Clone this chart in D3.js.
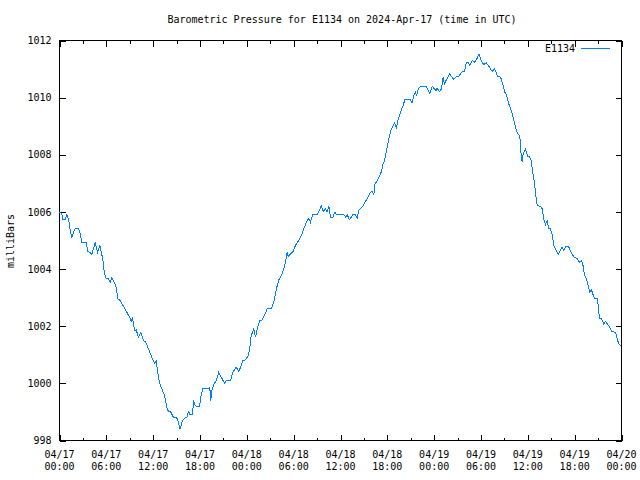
<!DOCTYPE html>
<html><head><meta charset="utf-8">
<script src="https://cdn.jsdelivr.net/npm/d3@7"></script>
<style>body{margin:0;background:#fff}svg{display:block}text{font-family:"DejaVu Sans Mono",monospace;font-size:10px;fill:#000}</style>
</head><body><svg id="c" width="640" height="480"></svg>
<script>
const title = "Barometric Pressure for E1134 on 2024-Apr-17 (time in UTC)";
const seriesName = "E1134";
const yLabel = "milliBars";
// hours since 2024-04-17 00:00 UTC
const hours = [0.0,0.29,0.42,0.73,0.94,1.15,1.37,1.58,1.88,2.01,2.43,2.65,2.86,3.42,3.63,3.93,4.14,4.57,4.87,5.16,5.34,5.55,5.73,5.93,6.28,6.50,6.70,7.01,7.26,7.47,7.78,8.20,8.62,8.97,9.19,9.35,9.61,9.83,10.12,10.42,10.76,11.06,11.40,11.82,12.17,12.39,12.59,12.81,13.11,13.45,13.62,13.84,14.26,14.60,15.03,15.24,15.46,15.76,16.10,16.31,16.53,16.74,17.04,17.17,17.38,17.59,17.94,
18.15,18.36,19.05,19.25,19.38,19.56,19.77,20.07,20.41,20.71,21.14,21.39,21.91,22.20,22.64,22.97,23.28,23.48,23.83,24.17,24.34,24.56,24.89,25.11,25.40,25.66,25.97,26.26,26.61,27.16,27.46,27.67,27.89,28.09,28.44,28.73,28.95,29.17,29.30,29.59,29.94,30.23,30.66,31.00,31.30,31.64,31.94,32.15,32.45,33.01,33.31,33.52,33.78,34.08,34.29,34.50,34.72,35.01,35.27,35.49,
36.42,36.64,36.86,37.15,37.57,37.92,38.14,38.34,38.56,38.85,39.11,39.42,39.62,39.84,40.06,40.27,40.39,40.70,41.03,41.25,41.42,41.63,41.76,41.89,42.11,42.28,42.53,42.83,42.95,43.17,43.34,43.56,43.77,44.03,44.24,44.97,45.18,45.39,45.61,45.73,45.95,46.25,46.98,47.23,47.44,47.75,48.04,48.26,48.38,48.68,48.94,49.15,49.32,49.45,49.67,49.96,50.31,50.51,50.73,51.15,51.50,51.88,52.10,52.36,52.56,52.87,53.20,53.51,53.74,54.02,54.35,54.66,54.99,55.43,55.73,56.15,56.50,56.79,57.05,57.26,57.56,57.86,58.12,58.42,58.71,58.97,59.06,59.15,59.28,59.40,59.70,59.99,60.25,60.43,60.63,60.89,61.07,61.20,61.62,61.84,62.04,62.26,62.48,62.68,62.90,63.12,63.32,63.63,63.89,64.18,64.40,64.60,64.91,65.25,65.59,65.89,66.32,66.62,66.87,67.04,67.26,67.51,67.73,67.94,68.15,68.32,68.54,68.88,69.01,69.18,69.43,69.73,69.95,70.37,70.59,70.72,71.23,71.45,71.65,71.96];
const pressure = [1006.00,1005.93,1005.73,1005.73,1005.90,1005.76,1005.35,1005.12,1005.35,1005.41,1005.41,1005.23,1004.94,1004.92,1004.61,1004.59,1004.51,1004.92,1004.59,1004.83,1004.59,1004.36,1003.89,1003.69,1003.66,1003.54,1003.69,1003.54,1003.37,1002.96,1002.90,1002.69,1002.49,1002.32,1002.18,1002.28,1001.85,1001.87,1001.61,1001.78,1001.50,1001.44,1001.21,1000.92,1000.71,1000.78,1000.39,1000.01,999.81,999.58,999.34,999.05,998.99,998.81,998.79,998.64,998.39,998.70,998.79,998.81,999.01,998.90,998.90,999.40,999.22,999.19,999.19,
999.58,999.81,999.81,999.87,999.40,999.81,999.96,1000.10,1000.39,1000.22,1000.01,1000.10,1000.10,1000.39,1000.57,1000.42,1000.62,1000.80,1000.82,1000.97,1001.15,1001.67,1001.91,1001.62,1001.97,1002.20,1002.22,1002.38,1002.61,1002.63,1002.87,1003.13,1003.42,1003.62,1003.78,1004.01,1004.24,1004.59,1004.44,1004.53,1004.62,1004.83,1005.00,1005.18,1005.41,1005.64,1005.78,1005.64,1005.91,1005.91,1006.05,1006.21,1006.01,1006.11,1006.01,1006.21,1005.80,1005.80,1005.99,1005.91,
1005.91,1005.82,1005.90,1005.73,1005.90,1005.91,1005.78,1006.05,1006.11,1006.20,1006.34,1006.46,1006.58,1006.69,1006.73,1006.60,1006.95,1007.10,1007.28,1007.42,1007.65,1007.80,1007.97,1008.15,1008.44,1008.67,1008.91,1009.06,1009.12,1008.91,1009.20,1009.37,1009.55,1009.73,1009.92,1009.92,1009.82,1010.08,1010.19,1010.05,1010.29,1010.40,1010.40,1010.25,1010.13,1010.39,1010.31,1010.25,1010.33,1010.22,1010.31,1010.72,1010.46,1010.57,1010.66,1010.83,1010.72,1010.63,1010.72,1010.74,1010.89,1010.92,1011.22,1011.22,1011.13,1011.30,1011.24,1011.38,1011.53,1011.30,1011.15,1011.22,1011.10,1010.92,1011.01,1010.74,1010.72,1010.48,1010.19,1010.10,1009.78,1009.55,1009.32,1008.97,1008.73,1008.67,1008.33,1007.95,1007.74,1008.03,1008.21,1007.94,1007.92,1007.80,1007.39,1006.93,1006.46,1006.23,1006.19,1006.11,1005.76,1005.55,1005.70,1005.43,1005.41,1005.20,1004.83,1004.65,1004.50,1004.65,1004.77,1004.65,1004.80,1004.77,1004.57,1004.42,1004.36,1004.24,1004.30,1004.18,1003.78,1003.66,1003.42,1003.19,1003.28,1003.13,1002.98,1002.96,1002.73,1002.28,1002.26,1002.08,1002.16,1002.02,1001.91,1001.81,1001.79,1001.56,1001.38,1001.32];
const yTicks = [998,1000,1002,1004,1006,1008,1010,1012];
const xTickHours = [0,6,12,18,24,30,36,42,48,54,60,66,72];
const xMinorHours = [3,9,15,21,27,33,39,45,51,57,63,69];
const xTickDates = ["04/17","04/17","04/17","04/17","04/18","04/18","04/18","04/18","04/19","04/19","04/19","04/19","04/20"];
const xTickTimes = ["00:00","06:00","12:00","18:00","00:00","06:00","12:00","18:00","00:00","06:00","12:00","18:00","00:00"];

const data = hours.map((h,i)=>({h, p:pressure[i]}));
const svg = d3.select("#c");
const L=59.5, R=621.5, T=40.5, B=440.5;
const x = d3.scaleLinear().domain([0,72]).range([L,R]);
const y = d3.scaleLinear().domain([998,1012]).range([B,T]);

function styleAxis(g){ g.select(".domain").remove(); g.selectAll("line").attr("stroke","#000").attr("shape-rendering","crispEdges"); }

// major/minor ticks, all inward
svg.append("g").attr("transform",`translate(0,${B})`).call(d3.axisBottom(x).tickValues(xTickHours).tickSize(-6).tickFormat("")).call(styleAxis);
svg.append("g").attr("transform",`translate(0,${B})`).call(d3.axisBottom(x).tickValues(xMinorHours).tickSize(-3).tickFormat("")).call(styleAxis);
svg.append("g").attr("transform",`translate(0,${T})`).call(d3.axisTop(x).tickValues(xTickHours).tickSize(-6).tickFormat("")).call(styleAxis);
svg.append("g").attr("transform",`translate(0,${T})`).call(d3.axisTop(x).tickValues(xMinorHours).tickSize(-3).tickFormat("")).call(styleAxis);
const gl = svg.append("g").attr("transform",`translate(${L},0)`).call(d3.axisLeft(y).tickValues(yTicks).tickSize(-6).tickPadding(8).tickFormat(d3.format("d"))).call(styleAxis);
gl.selectAll("text").attr("font-family",null).attr("font-size",null).attr("fill","#000");
svg.append("g").attr("transform",`translate(${R},0)`).call(d3.axisRight(y).tickValues(yTicks).tickSize(-6).tickFormat("")).call(styleAxis);

// frame
svg.append("rect").attr("x",L).attr("y",T).attr("width",R-L).attr("height",B-T)
  .attr("fill","none").attr("stroke","#000").attr("shape-rendering","crispEdges");

// x labels two lines
const xl = svg.append("g");
xTickHours.forEach((h,i)=>{
  const t = xl.append("text").attr("x",x(h)).attr("text-anchor","middle");
  t.append("tspan").attr("x",x(h)).attr("y",458).text(xTickDates[i]);
  t.append("tspan").attr("x",x(h)).attr("y",470).text(xTickTimes[i]);
});

// title, y label
svg.append("text").attr("x",342).attr("y",23).attr("text-anchor","middle").text(title);
svg.append("text").attr("transform","translate(14,241) rotate(-90)").attr("text-anchor","middle").text(yLabel);

// series line
svg.append("path").datum(data).attr("fill","none").attr("stroke","#0080ff").attr("stroke-width",1)
  .attr("shape-rendering","crispEdges")
  .attr("d", d3.line().x(d=>x(d.h)).y(d=>y(d.p)));

// legend
svg.append("text").attr("x",575).attr("y",52).attr("text-anchor","end").text(seriesName);
svg.append("line").attr("x1",581).attr("x2",610).attr("y1",48.5).attr("y2",48.5).attr("stroke","#0080ff").attr("shape-rendering","crispEdges");
</script></body></html>
